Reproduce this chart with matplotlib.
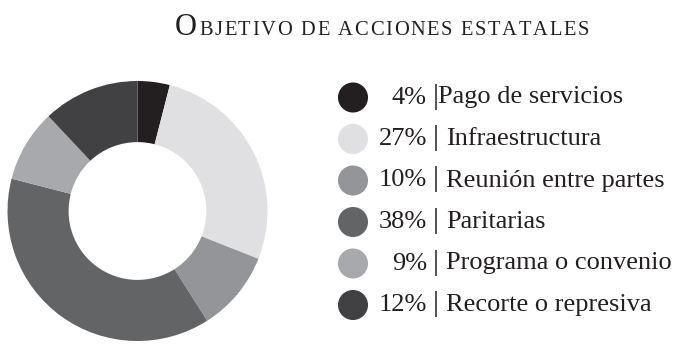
import matplotlib.pyplot as plt

title_first = "O"
title_rest = "BJETIVO DE ACCIONES ESTATALES"
labels = ["Pago de servicios", "Infraestructura", "Reunión entre partes",
          "Paritarias", "Programa o convenio", "Recorte o represiva"]
values = [4, 27, 10, 38, 9, 12]
colors = ["#231f20", "#e0e0e2", "#939598", "#636466", "#a7a9ac", "#414042"]

W, H = 698, 352
fig = plt.figure(figsize=(W / 100, H / 100), dpi=100)
serif = "Liberation Serif"
ink = "#231f20"

# donut
cx, cy, r = 137.5, 211, 130
ax = fig.add_axes([(cx - r) / W, (H - cy - r) / H, 2 * r / W, 2 * r / H])
ax.pie(values, colors=colors, startangle=90, counterclock=False, radius=1,
       wedgeprops=dict(width=0.47, edgecolor="none"))
ax.set_xlim(-1, 1)
ax.set_ylim(-1, 1)
ax.set_aspect("auto")
ax.axis("off")

# overlay in pixel coords for title and legend
ov = fig.add_axes([0, 0, 1, 1])
ov.set_xlim(0, W)
ov.set_ylim(H, 0)
ov.axis("off")

# letter-spaced small caps title
renderer = fig.canvas.get_renderer()
x = 175
t = ov.text(x, 35, title_first, fontsize=22, family=serif, color=ink,
            ha="left", va="baseline")
x += t.get_window_extent(renderer).width + 2
for ch in title_rest:
    t = ov.text(x, 35, ch, fontsize=14.8, family=serif, color=ink,
                ha="left", va="baseline")
    w = t.get_window_extent(renderer).width if ch != " " else 5
    x += w + 1.7

# legend
y0, dy = 97.5, 41.5
for i, (lab, v, c) in enumerate(zip(labels, values, colors)):
    y = y0 + i * dy
    ov.scatter([353], [y], s=(2 * 15) ** 2 * 0.52, color=c, edgecolors="none")
    ov.text(427, y + 6, f"{v}%", fontsize=19, family=serif, color=ink,
            ha="right", va="baseline")
    ov.text(433, y + 6, "|", fontsize=21, family=serif, color=ink,
            ha="left", va="baseline")
    ov.text(438 if i == 0 else 446, y + 6, lab, fontsize=19, family=serif,
            color=ink, ha="left", va="baseline")

fig.savefig("out.png", dpi=100)
